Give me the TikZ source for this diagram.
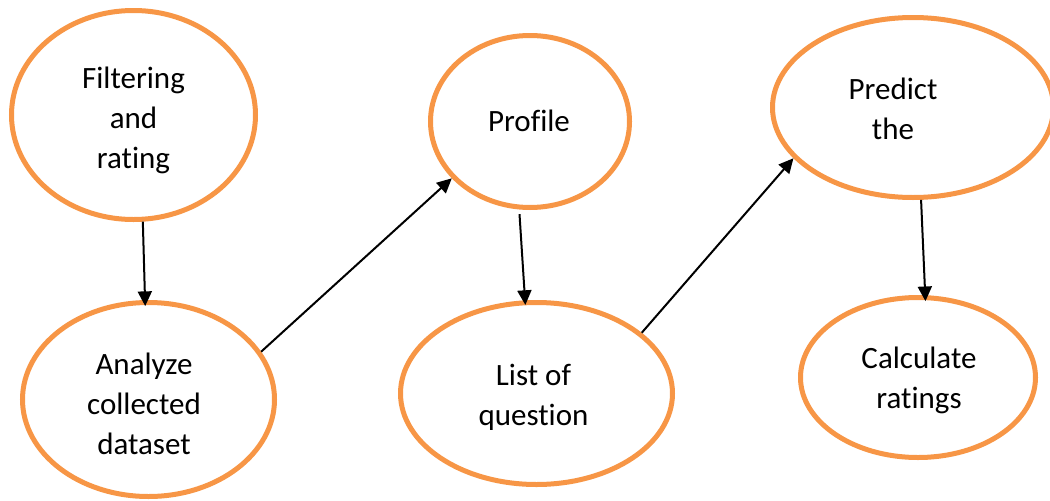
\documentclass[tikz,border=0pt]{standalone}
\usepackage{fontspec}
\setmainfont{Carlito}[Ligatures={NoCommon,NoContextual,NoRare}]
\usetikzlibrary{shapes.geometric,arrows.meta}
\definecolor{boxorange}{HTML}{F79646}
\newcommand\nolig{\kern0pt}
\begin{document}
\begin{tikzpicture}[x=0.75pt,y=-0.75pt,
  oval/.style={ellipse,draw=boxorange,line width=3.75pt,inner sep=0pt},
  lbl/.style={align=center,inner sep=0pt,font=\fontsize{23.25}{30}\selectfont},
  conn/.style={line width=1.5pt,-{Triangle[length=11pt,width=10.5pt]}}]
\useasboundingbox (0,0) rectangle (1050,500);
\node[oval,minimum width=183pt,minimum height=156.75pt] (e1) at (133.5,115) {};
\node[oval,minimum width=189pt,minimum height=145.5pt] (e2) at (148.5,399.5) {};
\node[oval,minimum width=149.25pt,minimum height=129pt] (e3) at (530,121.5) {};
\node[oval,minimum width=204pt,minimum height=136.5pt] (e4) at (536.5,393.5) {};
\node[oval,minimum width=210.75pt,minimum height=135pt] (e5) at (913,107.5) {};
\node[oval,minimum width=176.25pt,minimum height=120pt] (e6) at (918,377.5) {};
\node[lbl] (t1) at (133.5,120.2) {Filtering\\and\\rating};
\node[lbl] (t2) at (144,404.2) {Analyze\\collected\\dataset};
\node[lbl] (t3) at (529,120.8) {Profile};
\node[lbl] (t4) at (533.5,397.7) {List of\\quest\nolig ion};
\node[lbl] (t5) at (893,109.2) {Predict\\the};
\node[lbl] (t6) at (919,380.5) {Calculate\\rat\nolig ings};
\draw[conn,shorten >=-4.5pt] (e1.275) -- (e2.92);
\draw[conn] (e2.23) -- (e3.216);
\draw[conn,shorten <=3.5pt,shorten >=-3.5pt] (e3.263) -- (e4.97);
\draw[conn] (e4.30) -- (e5.203);
\draw[conn,shorten >=-4.5pt] (e5.275) -- (e6.85);
\end{tikzpicture}
\end{document}
